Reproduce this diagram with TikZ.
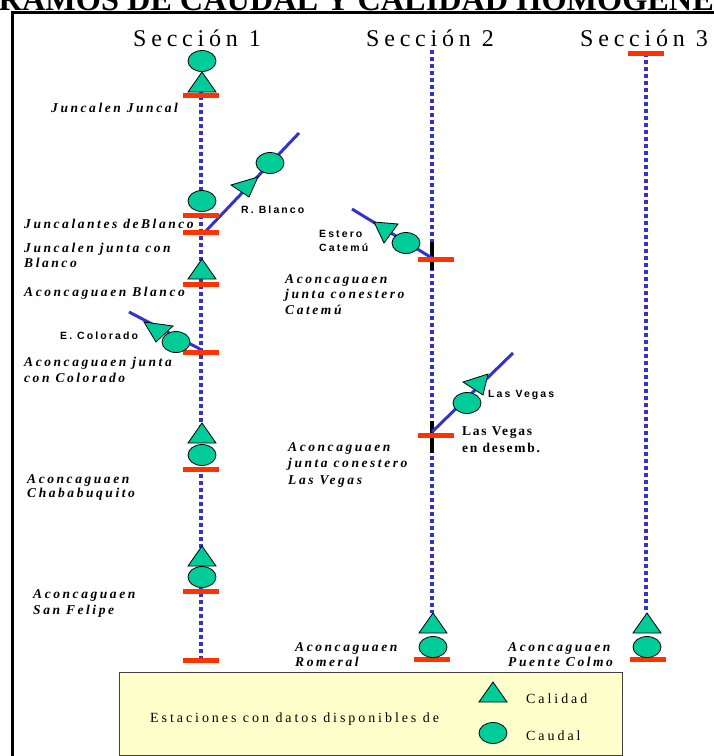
\documentclass[tikz,border=0pt]{standalone}
\usepackage{fontspec}
\setmainfont{Liberation Serif}
\newfontfamily\labfont[LetterSpace=19]{Liberation Serif}
\newfontfamily\labupfont[LetterSpace=13]{Liberation Serif}
\newfontfamily\secfont[LetterSpace=20]{Liberation Serif}
\newfontfamily\smallsans[LetterSpace=20]{Liberation Sans}
\newfontfamily\legfont[LetterSpace=21]{Liberation Serif}
\newfontfamily\titlefont{Liberation Serif}
\usetikzlibrary{shapes.geometric}
\definecolor{tealfill}{HTML}{00CC99}
\definecolor{barred}{HTML}{FF3300}
\definecolor{riverblue}{HTML}{3333CC}
\definecolor{legfill}{HTML}{FFFFCC}
\tikzset{
  caudal/.style={ellipse, draw=black, fill=tealfill, minimum width=28pt, minimum height=21pt, inner sep=0pt, line width=0.8pt},
  tri/.style={draw=black, fill=tealfill, line width=0.8pt, line join=miter},
  calidad/.pic={\path[tri] (0,0) -- (14,20) -- (-14,20) -- cycle;},
  barline/.style={draw=barred, line width=5pt},
  redbar/.pic={\draw[barline] (-18,0) -- (18,0);},
  dotline/.style={draw=riverblue, line width=4pt, dash pattern=on 4pt off 3pt},
  river/.style={draw=riverblue, line width=3pt},
  blackseg/.style={draw=black, line width=4pt},
  lab/.style={font=\labfont\fontsize{13.5}{15}\bfseries\itshape\selectfont, anchor=base west, inner sep=0pt},
  labup/.style={font=\labupfont\fontsize{13.5}{15}\bfseries\selectfont, anchor=base west, inner sep=0pt},
  slab/.style={font=\smallsans\fontsize{10.5}{12}\bfseries\selectfont, anchor=base west, inner sep=0pt},
  sectitle/.style={font=\secfont\fontsize{24}{28}\selectfont, anchor=base, inner sep=0pt},
  legtext/.style={font=\legfont\fontsize{14}{16}\selectfont, anchor=base west, inner sep=0pt},
}
\begin{document}
\begin{tikzpicture}[x=1pt, y=-1pt]
\useasboundingbox (0,0) rectangle (714,756);
\clip (0,0) rectangle (714,756);
\fill[white] (0,0) rectangle (714,756);
% title (clipped at the top edge)
\node[font=\titlefont\fontsize{32.3}{36}\bfseries\selectfont, anchor=base west, inner sep=0pt] (title) at (-23,10) {TRAMOS DE CAUDAL Y CALIDAD HOMOGENEOS};
% frame
\draw[line width=3pt] (12,800) -- (12,12) -- (800,12);
% section titles
\node[sectitle] (s1) at (197,46) {Sección 1};
\node[sectitle] (s2) at (430,46) {Sección 2};
\node[sectitle] (s3) at (644,46) {Sección 3};
% dotted main lines
\coordinate (a1) at (201,68); \coordinate (a2) at (201,660);
\coordinate (b1) at (432,50); \coordinate (b2) at (432,613);
\coordinate (c1) at (646,53); \coordinate (c2) at (646,613);
\draw[dotline] (a1) -- (a2);
\draw[dotline] (b1) -- (b2);
\draw[dotline] (c1) -- (c2);
% black segments on section 2
\coordinate (k1) at (432,242); \coordinate (k2) at (432,270);
\coordinate (k3) at (432,421); \coordinate (k4) at (432,453);
\draw[blackseg] (k1) -- (k2);
\draw[blackseg] (k3) -- (k4);
% tributaries
\coordinate (rb0) at (205,232); \coordinate (rb1) at (299,133);
\draw[river] (rb0) -- (rb1);
\coordinate (ec0) at (200,349); \coordinate (ec1) at (129,312);
\draw[river] (ec0) -- (ec1);
\coordinate (ct0) at (432,258); \coordinate (ct1) at (352,209);
\draw[river] (ct0) -- (ct1);
\coordinate (lv0) at (432,432); \coordinate (lv1) at (513,353);
\draw[river] (lv0) -- (lv1);
% red bars
\foreach \y in {95,215,232,284,352,469,591,660} {\pic at (201,\y) {redbar};}
\pic at (436,259) {redbar};
\pic at (436,435) {redbar};
\pic at (432,659) {redbar};
\pic at (646,53) {redbar};
\pic at (648,659) {redbar};
% section 1 stations
\node[caudal] (e1) at (202,61) {};
\pic at (202,72) {calidad};
\node[caudal] (e2) at (202,201) {};
\pic at (202,259) {calidad};
\pic at (202,423) {calidad};
\node[caudal] (e3) at (202,455) {};
\pic at (202,546) {calidad};
\node[caudal] (e4) at (202,577) {};
% section 2 & 3 stations
\pic at (433,613) {calidad};
\node[caudal] (e5) at (433,647) {};
\pic at (647,613) {calidad};
\node[caudal] (e6) at (647,647) {};
% tributary stations
\node[caudal] (e7) at (270,163) {};
\path[tri] (231,185) -- (258,177) -- (249,197) -- cycle;
\node[caudal] (e8) at (176,342) {};
\path[tri] (144,322) -- (173,326) -- (156,342) -- cycle;
\node[caudal] (e9) at (406,243) {};
\path[tri] (374,222) -- (398,224) -- (384,243) -- cycle;
\node[caudal] (e10) at (467,403) {};
\path[tri] (463,382) -- (488,374) -- (483,395) -- cycle;
% station labels
\node[lab] (l1) at (51,112) {Juncalen Juncal};
\node[lab] (l2) at (24,228) {Juncalantes deBlanco};
\node[lab] (l3) at (24,252) {Juncalen junta con};
\node[lab] (l3b) at (24,267) {Blanco};
\node[lab] (l4) at (24,296) {Aconcaguaen Blanco};
\node[lab] (l5) at (24,366) {Aconcaguaen junta};
\node[lab] (l5b) at (24,382) {con Colorado};
\node[lab] (l6) at (27,483) {Aconcaguaen};
\node[lab] (l6b) at (27,497) {Chababuquito};
\node[lab] (l7) at (33,598) {Aconcaguaen};
\node[lab] (l7b) at (33,614) {San Felipe};
\node[lab] (l8) at (285,283) {Aconcaguaen};
\node[lab] (l8b) at (285,298) {junta conestero};
\node[lab] (l8c) at (285,314) {Catemú};
\node[lab] (l9) at (288,451) {Aconcaguaen};
\node[lab] (l9b) at (288,467) {junta conestero};
\node[lab] (l9c) at (288,484) {Las Vegas};
\node[lab] (l10) at (295,651) {Aconcaguaen};
\node[lab] (l10b) at (295,666) {Romeral};
\node[lab] (l11) at (508,651) {Aconcaguaen};
\node[lab] (l11b) at (508,666) {Puente Colmo};
\node[labup] (l12) at (462,435) {Las Vegas};
\node[labup] (l12b) at (462,452) {en desemb.};
% tributary labels
\node[slab] (t1) at (241,213) {R. Blanco};
\node[slab] (t2) at (60,339) {E. Colorado};
\node[slab] (t3) at (319,237) {Estero};
\node[slab] (t3b) at (319,251) {Catemú};
\node[slab] (t4) at (488,397) {Las Vegas};
% legend
\node[draw=black!75, fill=legfill, line width=1pt, minimum width=503pt, minimum height=83pt, anchor=north west, inner sep=0pt] (leg) at (119,672) {};
\node[legtext] (lt) at (150,722) {Estaciones con datos disponibles de};
\pic at (493,682) {calidad};
\node[legtext] (lc) at (526,703) {Calidad};
\node[caudal] (le) at (493,733) {};
\node[legtext] (ld) at (526,740) {Caudal};
\end{tikzpicture}
\end{document}
